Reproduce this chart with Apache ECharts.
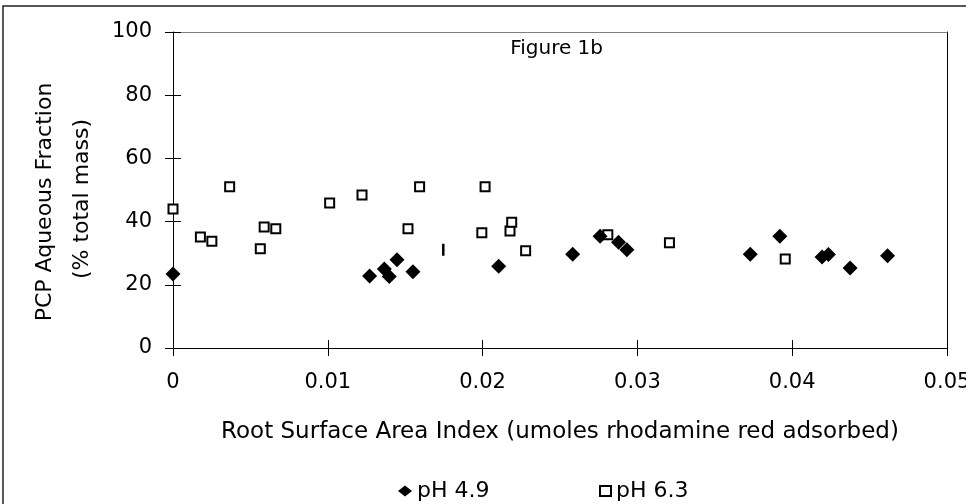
<!DOCTYPE html>
<html>
<head>
<meta charset="utf-8">
<title>Figure 1b</title>
<script src="https://cdn.jsdelivr.net/npm/echarts@6/dist/echarts.min.js"></script>
<style>
    html, body {margin: 0; padding: 0; background: #fff;}
    #xchart-1 {width: 966px; height: 504px;}
</style>
</head>
<body>
<div id="xchart-1"></div>
<script>
// pH 4.9 (filled diamonds)
var ph49X = [0, 0.0127, 0.01365, 0.01397, 0.01447, 0.0155, 0.02104, 0.02582, 0.02759, 0.02878, 0.02932, 0.03729, 0.0392, 0.04193, 0.04234, 0.04374, 0.04616];
var ph49Y = [23.4, 22.8, 25.0, 22.6, 27.9, 24.1, 25.9, 29.7, 35.4, 33.5, 31.1, 29.7, 35.4, 28.8, 29.6, 25.3, 29.2];

// pH 6.3 (open squares)
var ph63X = [0, 0.00177, 0.00251, 0.00366, 0.00564, 0.00589, 0.00664, 0.01012, 0.01221, 0.01518, 0.01593, 0.01995, 0.02016, 0.02177, 0.02188, 0.02278, 0.02809, 0.03207, 0.03955];
var ph63Y = [44.0, 35.1, 33.8, 51.0, 31.4, 38.3, 37.7, 45.9, 48.4, 37.7, 51.0, 36.5, 51.0, 37.0, 39.8, 30.8, 35.8, 33.3, 28.2];

// the lone vertical bar in the plot
var barX = [0.01746];
var barY = [31.1];

var xMin = 0, xMax = 0.05, xStep = 0.01;
var yMin = 0, yMax = 100, yStep = 20;

var fontName = 'DejaVu Sans';

function pairs(xs, ys) {
    var out = [];
    for (var i = 0; i < xs.length; i++) {
        out.push([xs[i], ys[i]]);
    }
    return out;
}

function xLabel(v) {
    return v === 0 ? '0' : v.toFixed(2);
}

// an axis that only draws a line or ticks, no labels
function plainAxis(gridIndex, position, min, max, step, line, tick) {
    return {
        type: 'value',
        gridIndex: gridIndex,
        position: position,
        min: min,
        max: max,
        interval: step,
        axisLine: {show: !!line, onZero: false, lineStyle: {color: line || '#000', width: 1}},
        axisTick: {show: tick, inside: true, length: 8, lineStyle: {color: '#000'}},
        axisLabel: {show: false},
        splitLine: {show: false}
    };
}

function initChart() {
    var gridBox = {left: 173, top: 32, right: 19, bottom: 156, outerBoundsMode: 'none'};
    var option = {
        animation: false,
        backgroundColor: '#fff',
        textStyle: {fontFamily: fontName, color: '#000'},
        grid: [
            Object.assign({}, gridBox),
            Object.assign({}, gridBox)   // same box, carries the inner half of the ticks
        ],
        legend: [
            {
                left: 393,
                top: 475,
                itemWidth: 14,
                itemHeight: 11,
                textStyle: {fontFamily: fontName, fontSize: 22, color: '#000'},
                data: ['pH 4.9']
            },
            {
                left: 594,
                top: 475,
                itemWidth: 11,
                itemHeight: 10,
                textStyle: {fontFamily: fontName, fontSize: 22, color: '#000'},
                data: ['pH 6.3']
            }
        ],
        xAxis: [
            {
                type: 'value',
                gridIndex: 0,
                position: 'bottom',
                min: xMin,
                max: xMax,
                interval: xStep,
                name: 'Root Surface Area Index (umoles rhodamine red adsorbed)',
                nameLocation: 'middle',
                nameGap: 73,
                nameTextStyle: {fontFamily: fontName, fontSize: 23, color: '#000'},
                axisLine: {show: true, onZero: false, lineStyle: {color: '#000', width: 1}},
                axisTick: {show: true, inside: false, length: 8, lineStyle: {color: '#000'}},
                axisLabel: {
                    margin: 24,
                    fontSize: 21,
                    color: '#000',
                    fontFamily: fontName,
                    showMinLabel: true,
                    showMaxLabel: true,
                    formatter: xLabel
                },
                splitLine: {show: false}
            },
            plainAxis(0, 'top', xMin, xMax, xStep, '#808080', false),
            plainAxis(1, 'bottom', xMin, xMax, xStep, null, true)
        ],
        yAxis: [
            {
                type: 'value',
                gridIndex: 0,
                position: 'left',
                min: yMin,
                max: yMax,
                interval: yStep,
                axisLine: {show: true, onZero: false, lineStyle: {color: '#000', width: 1}},
                axisTick: {show: true, inside: false, length: 8, lineStyle: {color: '#000'}},
                axisLabel: {margin: 21, fontSize: 21, color: '#000', fontFamily: fontName},
                splitLine: {show: false}
            },
            plainAxis(0, 'right', yMin, yMax, yStep, '#000', false),
            plainAxis(1, 'left', yMin, yMax, yStep, null, true)
        ],
        graphic: [
            {
                // outer chart frame
                type: 'rect',
                silent: true,
                shape: {x: 3, y: 6, width: 1000, height: 1000},
                style: {fill: 'none', stroke: '#222', lineWidth: 1.5}
            },
            {
                type: 'text',
                silent: true,
                x: 45,
                y: 202,
                rotation: Math.PI / 2,
                style: {
                    text: 'PCP Aqueous Fraction',
                    fontFamily: fontName,
                    fontSize: 22,
                    fill: '#000',
                    align: 'center',
                    verticalAlign: 'middle'
                }
            },
            {
                type: 'text',
                silent: true,
                x: 82,
                y: 199,
                rotation: Math.PI / 2,
                style: {
                    text: '(% total mass)',
                    fontFamily: fontName,
                    fontSize: 22,
                    fill: '#000',
                    align: 'center',
                    verticalAlign: 'middle'
                }
            },
            {
                type: 'text',
                silent: true,
                x: 603,
                y: 49,
                style: {
                    text: 'Figure 1b',
                    fontFamily: fontName,
                    fontSize: 20,
                    fill: '#000',
                    align: 'right',
                    verticalAlign: 'middle'
                }
            }
        ],
        series: [
            {
                name: 'pH 6.3',
                type: 'scatter',
                symbol: 'rect',
                symbolSize: 9,
                itemStyle: {color: '#fff', borderColor: '#000', borderWidth: 2, opacity: 1},
                data: pairs(ph63X, ph63Y)
            },
            {
                name: 'pH 4.9',
                type: 'scatter',
                symbol: 'diamond',
                symbolSize: 15,
                itemStyle: {color: '#000', opacity: 1},
                data: pairs(ph49X, ph49Y)
            },
            {
                // sits on the twin grid so its axes get a scale and draw their ticks
                name: 'bar',
                type: 'scatter',
                xAxisIndex: 2,
                yAxisIndex: 2,
                symbol: 'rect',
                symbolSize: [2.5, 12],
                itemStyle: {color: '#000', opacity: 1},
                data: pairs(barX, barY)
            }
        ]
    };
    var chart = echarts.init(document.getElementById('xchart-1'));
    chart.setOption(option);
}

initChart();
</script>
</body>
</html>
